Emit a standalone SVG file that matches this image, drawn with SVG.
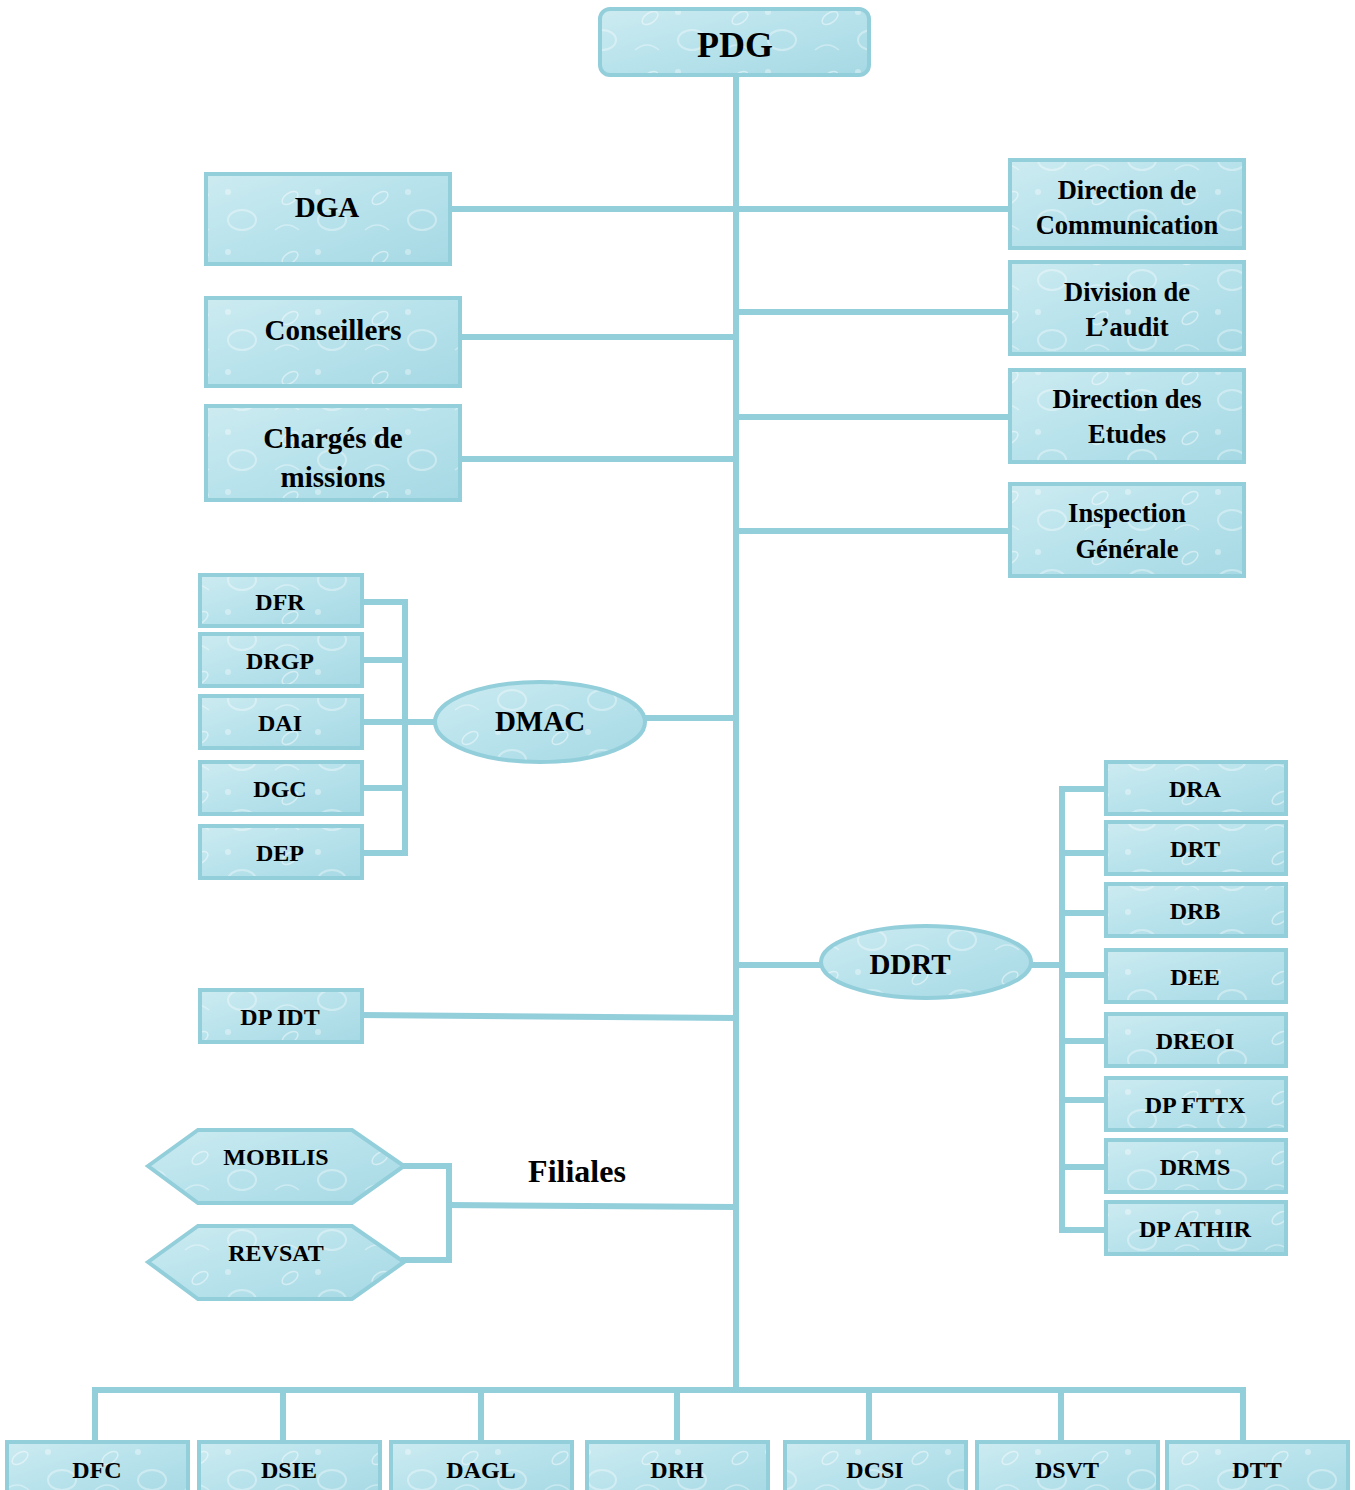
<svg xmlns="http://www.w3.org/2000/svg" width="1355" height="1490" viewBox="0 0 1355 1490">
<defs>
<linearGradient id="tex" x1="0" y1="0" x2="1" y2="1">
<stop offset="0" stop-color="#cdebf1"/>
<stop offset="0.45" stop-color="#b9e3ec"/>
<stop offset="1" stop-color="#a6d9e4"/>
</linearGradient>
<pattern id="drops" width="90" height="60" patternUnits="userSpaceOnUse">
<ellipse cx="20" cy="18" rx="9" ry="5" fill="none" stroke="#ffffff" stroke-opacity="0.45" stroke-width="1.5" transform="rotate(-35 20 18)"/>
<ellipse cx="62" cy="40" rx="14" ry="10" fill="none" stroke="#ffffff" stroke-opacity="0.35" stroke-width="2"/>
<circle cx="48" cy="12" r="3" fill="#ffffff" fill-opacity="0.35"/>
<path d="M5 50 q12 -10 24 0" fill="none" stroke="#ffffff" stroke-opacity="0.35" stroke-width="1.5"/>
</pattern>
<style>
.box{fill:url(#tex);stroke:#93cedb;stroke-width:4}
.ov{fill:url(#drops);stroke:none}
.ln{fill:none;stroke:#93cedb;stroke-width:6;stroke-linecap:square}
text{font-family:"Liberation Serif","Times New Roman",serif;font-weight:bold;fill:#000;text-anchor:middle;dominant-baseline:central}
.xl{font-size:36px}
.l{font-size:29px}
.f{font-size:32px}
.m{font-size:29px}
.s{font-size:26.5px}
.xs{font-size:24px}
</style>
</defs>
<rect width="1355" height="1490" fill="#fff"/>
<g id="connectors">
<path class="ln" d="M736 75 V1390"/>
<path class="ln" d="M450 209 H1010"/>
<path class="ln" d="M736 312 H1010"/>
<path class="ln" d="M736 417 H1010"/>
<path class="ln" d="M736 531 H1010"/>
<path class="ln" d="M460 337 H736"/>
<path class="ln" d="M462 459 H736"/>
<path class="ln" d="M362 602 H405 V853 H362"/>
<path class="ln" d="M362 660 H405"/>
<path class="ln" d="M362 722 H436"/>
<path class="ln" d="M362 788 H405"/>
<path class="ln" d="M645 718 H736"/>
<path class="ln" d="M736 965 H822"/>
<path class="ln" d="M1030 965 H1062"/>
<path class="ln" d="M1106 789 H1062 V1230 H1106"/>
<path class="ln" d="M1062 853 H1106"/>
<path class="ln" d="M1062 913 H1106"/>
<path class="ln" d="M1062 975 H1106"/>
<path class="ln" d="M1062 1041 H1106"/>
<path class="ln" d="M1062 1100 H1106"/>
<path class="ln" d="M1062 1167 H1106"/>
<path class="ln" d="M362 1015 L733 1018"/>
<path class="ln" d="M404 1166 H449 V1260 H404"/>
<path class="ln" d="M449 1205 L733 1207"/>
<path class="ln" d="M95 1442 V1390 H1243 V1442"/>
<path class="ln" d="M283 1390 V1442"/>
<path class="ln" d="M481 1390 V1442"/>
<path class="ln" d="M677 1390 V1442"/>
<path class="ln" d="M869 1390 V1442"/>
<path class="ln" d="M1061 1390 V1442"/>
</g>
<g id="PDG"><rect class="box" x="600" y="9" width="269" height="66" rx="10"/><rect class="ov" x="602" y="11" width="265" height="62" rx="8"/><text class="xl" x="735" y="45">PDG</text></g>
<g id="DGA"><rect class="box" x="206" y="174" width="244" height="90"/><rect class="ov" x="208" y="176" width="240" height="86"/><text class="l" x="327" y="207">DGA</text></g>
<g id="Conseillers"><rect class="box" x="206" y="298" width="254" height="88"/><rect class="ov" x="208" y="300" width="250" height="84"/><text class="m" x="333" y="330">Conseillers</text></g>
<g id="Charges"><rect class="box" x="206" y="406" width="254" height="94"/><rect class="ov" x="208" y="408" width="250" height="90"/><text class="m" x="333" y="438">Chargés de</text><text class="m" x="333" y="477">missions</text></g>
<g id="DirCom"><rect class="box" x="1010" y="160" width="234" height="88"/><rect class="ov" x="1012" y="162" width="230" height="84"/><text class="s" x="1127" y="190">Direction de</text><text class="s" x="1127" y="225">Communication</text></g>
<g id="DivAudit"><rect class="box" x="1010" y="262" width="234" height="92"/><rect class="ov" x="1012" y="264" width="230" height="88"/><text class="s" x="1127" y="292">Division de</text><text class="s" x="1127" y="327">L’audit</text></g>
<g id="DirEtudes"><rect class="box" x="1010" y="370" width="234" height="92"/><rect class="ov" x="1012" y="372" width="230" height="88"/><text class="s" x="1127" y="399">Direction des</text><text class="s" x="1127" y="434">Etudes</text></g>
<g id="Inspection"><rect class="box" x="1010" y="484" width="234" height="92"/><rect class="ov" x="1012" y="486" width="230" height="88"/><text class="s" x="1127" y="513">Inspection</text><text class="s" x="1127" y="549">Générale</text></g>
<g id="DFR"><rect class="box" x="200" y="575" width="162" height="51"/><rect class="ov" x="202" y="577" width="158" height="47"/><text class="xs" x="280" y="602">DFR</text></g>
<g id="DRGP"><rect class="box" x="200" y="634" width="162" height="52"/><rect class="ov" x="202" y="636" width="158" height="48"/><text class="xs" x="280" y="661">DRGP</text></g>
<g id="DAI"><rect class="box" x="200" y="696" width="162" height="52"/><rect class="ov" x="202" y="698" width="158" height="48"/><text class="xs" x="280" y="723">DAI</text></g>
<g id="DGC"><rect class="box" x="200" y="762" width="162" height="52"/><rect class="ov" x="202" y="764" width="158" height="48"/><text class="xs" x="280" y="789">DGC</text></g>
<g id="DEP"><rect class="box" x="200" y="826" width="162" height="52"/><rect class="ov" x="202" y="828" width="158" height="48"/><text class="xs" x="280" y="853">DEP</text></g>
<g id="DMAC"><ellipse class="box" cx="540" cy="722" rx="105" ry="40"/><ellipse class="ov" cx="540" cy="722" rx="103" ry="38"/><text class="l" x="540" y="721">DMAC</text></g>
<g id="DDRT"><ellipse class="box" cx="926" cy="962" rx="105" ry="36"/><ellipse class="ov" cx="926" cy="962" rx="103" ry="34"/><text class="l" x="910" y="964">DDRT</text></g>
<g id="DRA"><rect class="box" x="1106" y="762" width="180" height="52"/><rect class="ov" x="1108" y="764" width="176" height="48"/><text class="xs" x="1195" y="789">DRA</text></g>
<g id="DRT"><rect class="box" x="1106" y="822" width="180" height="52"/><rect class="ov" x="1108" y="824" width="176" height="48"/><text class="xs" x="1195" y="849">DRT</text></g>
<g id="DRB"><rect class="box" x="1106" y="884" width="180" height="52"/><rect class="ov" x="1108" y="886" width="176" height="48"/><text class="xs" x="1195" y="911">DRB</text></g>
<g id="DEE"><rect class="box" x="1106" y="950" width="180" height="52"/><rect class="ov" x="1108" y="952" width="176" height="48"/><text class="xs" x="1195" y="977">DEE</text></g>
<g id="DREOI"><rect class="box" x="1106" y="1014" width="180" height="52"/><rect class="ov" x="1108" y="1016" width="176" height="48"/><text class="xs" x="1195" y="1041">DREOI</text></g>
<g id="DPFTTX"><rect class="box" x="1106" y="1078" width="180" height="52"/><rect class="ov" x="1108" y="1080" width="176" height="48"/><text class="xs" x="1195" y="1105">DP FTTX</text></g>
<g id="DRMS"><rect class="box" x="1106" y="1140" width="180" height="52"/><rect class="ov" x="1108" y="1142" width="176" height="48"/><text class="xs" x="1195" y="1167">DRMS</text></g>
<g id="DPATHIR"><rect class="box" x="1106" y="1202" width="180" height="52"/><rect class="ov" x="1108" y="1204" width="176" height="48"/><text class="xs" x="1195" y="1229">DP ATHIR</text></g>
<g id="DPIDT"><rect class="box" x="200" y="990" width="162" height="52"/><rect class="ov" x="202" y="992" width="158" height="48"/><text class="xs" x="280" y="1017">DP IDT</text></g>
<g id="MOBILIS"><polygon class="box" points="148,1166 198,1130 352,1130 404,1166 352,1203 198,1203"/><polygon class="ov" points="152,1166 199,1132 351,1132 400,1166 351,1201 199,1201"/><text class="xs" x="276" y="1157">MOBILIS</text></g>
<g id="REVSAT"><polygon class="box" points="148,1262 198,1226 352,1226 404,1262 352,1299 198,1299"/><polygon class="ov" points="152,1262 199,1228 351,1228 400,1262 351,1297 199,1297"/><text class="xs" x="276" y="1253">REVSAT</text></g>
<text class="f" x="577" y="1171">Filiales</text>
<g id="DFC"><rect class="box" x="7" y="1442" width="181" height="56"/><rect class="ov" x="9" y="1444" width="177" height="52"/><text class="xs" x="97" y="1470">DFC</text></g>
<g id="DSIE"><rect class="box" x="199" y="1442" width="181" height="56"/><rect class="ov" x="201" y="1444" width="177" height="52"/><text class="xs" x="289" y="1470">DSIE</text></g>
<g id="DAGL"><rect class="box" x="391" y="1442" width="181" height="56"/><rect class="ov" x="393" y="1444" width="177" height="52"/><text class="xs" x="481" y="1470">DAGL</text></g>
<g id="DRH"><rect class="box" x="587" y="1442" width="181" height="56"/><rect class="ov" x="589" y="1444" width="177" height="52"/><text class="xs" x="677" y="1470">DRH</text></g>
<g id="DCSI"><rect class="box" x="785" y="1442" width="181" height="56"/><rect class="ov" x="787" y="1444" width="177" height="52"/><text class="xs" x="875" y="1470">DCSI</text></g>
<g id="DSVT"><rect class="box" x="977" y="1442" width="181" height="56"/><rect class="ov" x="979" y="1444" width="177" height="52"/><text class="xs" x="1067" y="1470">DSVT</text></g>
<g id="DTT"><rect class="box" x="1167" y="1442" width="181" height="56"/><rect class="ov" x="1169" y="1444" width="177" height="52"/><text class="xs" x="1257" y="1470">DTT</text></g>
</svg>
